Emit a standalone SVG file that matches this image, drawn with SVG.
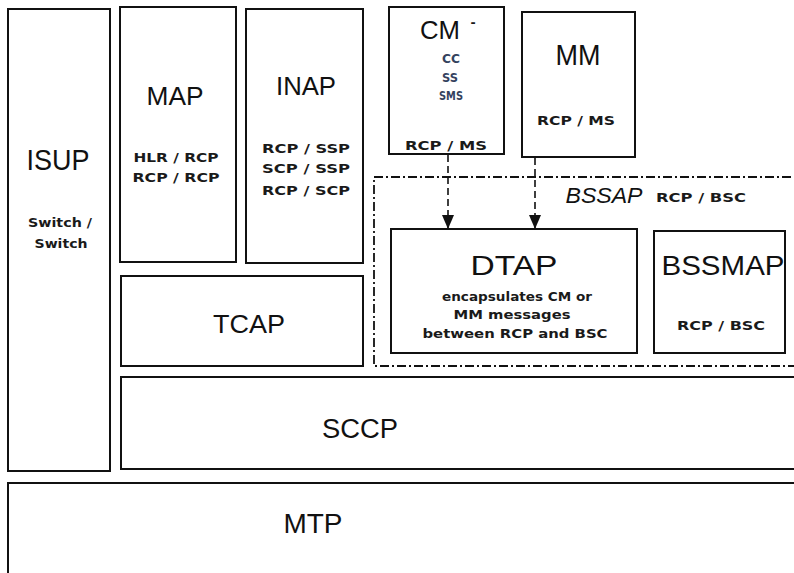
<svg xmlns="http://www.w3.org/2000/svg" width="794" height="573" viewBox="0 0 794 573">
  <style>
    .box { fill: #ffffff; stroke: #111111; stroke-width: 2; }
    .frame { fill: none; stroke: #111111; stroke-width: 1.8; stroke-dasharray: 9 3 2 3; }
    .big { font-family: "Liberation Sans", Arial, sans-serif; fill: #111111; text-anchor: middle; }
    .small { font-family: "DejaVu Sans", "Liberation Sans", sans-serif; font-size: 12.5px; font-weight: bold; fill: #1a1a1a; text-anchor: middle; }
    .sub { fill: #34425e; }
    .link { stroke: #111111; stroke-width: 1.6; stroke-dasharray: 7 4; fill: none; }
  </style>
  <defs>
    <marker id="arrow" viewBox="0 0 14 12" refX="14" refY="6" markerWidth="14" markerHeight="12" markerUnits="userSpaceOnUse" orient="auto">
      <path d="M0,0 L14,6 L0,12 Z" fill="#111111"/>
    </marker>
  </defs>
  <rect width="794" height="573" fill="#ffffff"/>

  <!-- BSSAP dash-dot frame -->
  <g id="bssap">
    <rect class="frame" x="374" y="177" width="440" height="189"/>
    <text class="big" x="604" y="203" font-size="22" font-style="italic" textLength="77" lengthAdjust="spacingAndGlyphs">BSSAP</text>
    <text class="small" x="701" y="202" font-size="11" textLength="90" lengthAdjust="spacingAndGlyphs">RCP / BSC</text>
  </g>

  <g id="isup">
    <rect class="box" x="8" y="9" width="102" height="462"/>
    <text class="big" x="58" y="170" font-size="30" textLength="63" lengthAdjust="spacingAndGlyphs">ISUP</text>
    <text class="small" x="60" y="227" textLength="64" lengthAdjust="spacingAndGlyphs">Switch /</text>
    <text class="small" x="61" y="248" textLength="53" lengthAdjust="spacingAndGlyphs">Switch</text>
  </g>

  <g id="map">
    <rect class="box" x="120" y="7" width="116" height="255"/>
    <text class="big" x="175" y="105" font-size="25" textLength="57" lengthAdjust="spacingAndGlyphs">MAP</text>
    <text class="small" x="176" y="162" textLength="85" lengthAdjust="spacingAndGlyphs">HLR / RCP</text>
    <text class="small" x="176" y="182" textLength="87" lengthAdjust="spacingAndGlyphs">RCP / RCP</text>
  </g>

  <g id="inap">
    <rect class="box" x="246" y="9" width="117" height="254"/>
    <text class="big" x="306" y="95" font-size="25" textLength="60" lengthAdjust="spacingAndGlyphs">INAP</text>
    <text class="small" x="306" y="153" textLength="88" lengthAdjust="spacingAndGlyphs">RCP / SSP</text>
    <text class="small" x="306" y="173" textLength="88" lengthAdjust="spacingAndGlyphs">SCP / SSP</text>
    <text class="small" x="306" y="195" textLength="88" lengthAdjust="spacingAndGlyphs">RCP / SCP</text>
  </g>

  <g id="cm">
    <rect class="box" x="389" y="7" width="115" height="147"/>
    <text class="big" x="440" y="39" font-size="25" textLength="40" lengthAdjust="spacingAndGlyphs">CM</text>
    <text class="small" x="473" y="27" font-size="10">-</text>
    <text class="small sub" x="451" y="63" textLength="18" lengthAdjust="spacingAndGlyphs">CC</text>
    <text class="small sub" x="450" y="82" textLength="16" lengthAdjust="spacingAndGlyphs">SS</text>
    <text class="small sub" x="451" y="100" textLength="24" lengthAdjust="spacingAndGlyphs">SMS</text>
    <text class="small" x="446" y="150" textLength="82" lengthAdjust="spacingAndGlyphs">RCP / MS</text>
  </g>

  <g id="mm">
    <rect class="box" x="522" y="12" width="113" height="145"/>
    <text class="big" x="578" y="65" font-size="29" textLength="45" lengthAdjust="spacingAndGlyphs">MM</text>
    <text class="small" x="576" y="125" textLength="78" lengthAdjust="spacingAndGlyphs">RCP / MS</text>
  </g>

  <g id="dtap">
    <rect class="box" x="391" y="229" width="246" height="124"/>
    <text class="big" x="514" y="275" font-size="28" textLength="87" lengthAdjust="spacingAndGlyphs">DTAP</text>
    <text class="small" x="517" y="301" textLength="150" lengthAdjust="spacingAndGlyphs">encapsulates CM or</text>
    <text class="small" x="512" y="319" font-size="13.5" textLength="117" lengthAdjust="spacingAndGlyphs">MM messages</text>
    <text class="small" x="515" y="338" textLength="185" lengthAdjust="spacingAndGlyphs">between RCP and BSC</text>
  </g>

  <g id="bssmap">
    <rect class="box" x="654" y="231" width="131" height="122"/>
    <text class="big" x="723" y="275" font-size="28" textLength="123" lengthAdjust="spacingAndGlyphs">BSSMAP</text>
    <text class="small" x="721" y="330" textLength="88" lengthAdjust="spacingAndGlyphs">RCP / BSC</text>
  </g>

  <g id="tcap">
    <rect class="box" x="121" y="276" width="242" height="90"/>
    <text class="big" x="249" y="333" font-size="26" textLength="72" lengthAdjust="spacingAndGlyphs">TCAP</text>
  </g>

  <g id="sccp">
    <rect class="box" x="121" y="377" width="690" height="92"/>
    <text class="big" x="360" y="438" font-size="27" textLength="76" lengthAdjust="spacingAndGlyphs">SCCP</text>
  </g>

  <g id="mtp">
    <rect class="box" x="8" y="483" width="803" height="100"/>
    <text class="big" x="313" y="533" font-size="28" textLength="59" lengthAdjust="spacingAndGlyphs">MTP</text>
  </g>

  <!-- connectors: CM and MM messages carried by DTAP -->
  <g id="connectors">
    <line class="link" x1="448" y1="155" x2="448" y2="229" marker-end="url(#arrow)"/>
    <line class="link" x1="535" y1="158" x2="535" y2="229" marker-end="url(#arrow)"/>
  </g>
</svg>
